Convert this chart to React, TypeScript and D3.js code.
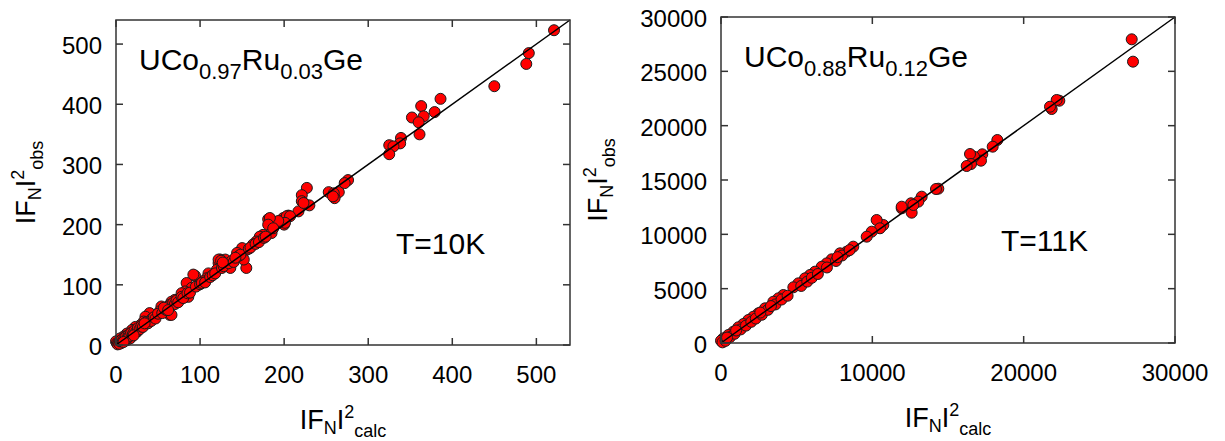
import React from "react";
import * as d3 from "d3";

// [|F_N|^2 calc, |F_N|^2 obs]
const left10K: [number, number][] = [
  [521, 523], [491, 485], [488, 467], [450, 430], [386, 409], [379, 387], [363, 397], [366, 380],
  [352, 378], [360, 370], [361, 350], [339, 344], [338, 335], [325, 332], [330, 330], [325, 317],
  [276, 274], [272, 269], [253, 254], [265, 254], [259, 252], [260, 244], [258, 247],
  [227, 261], [221, 249], [221, 239], [224, 235], [230, 232], [217, 222], [205, 215], [199, 211],
  [181, 209], [187, 197], [197, 206], [203, 214], [200, 200], [223, 236], [207, 214], [201, 203],
  [193, 206], [183, 211], [181, 200], [185, 186], [187, 194], [175, 183], [171, 180], [167, 172],
  [163, 167], [155, 158], [150, 161], [144, 153], [155, 128], [152, 142], [130, 142], [124, 142],
  [122, 136], [132, 133], [136, 128], [120, 125], [110, 119], [94, 115], [108, 111], [104, 106],
  [98, 100], [84, 103], [90, 95], [82, 89], [78, 86], [86, 80], [76, 75], [70, 75], [66, 72],
  [64, 67], [54, 64], [52, 56], [64, 50], [48, 50], [40, 53], [35, 47], [43, 44], [33, 39],
  [29, 33], [23, 30], [19, 25], [25, 22], [13, 19], [9, 14], [5, 11], [13, 8], [0, 6], [1, 3],
  [6, 3], [17, 11], [92, 117], [66, 50], [122, 142], [2, 1], [3, 4], [4, 2], [5, 6], [7, 9],
  [8, 6], [10, 12], [11, 9], [12, 14], [14, 12], [15, 17], [16, 15], [18, 20], [20, 18], [22, 24],
  [24, 22], [26, 28], [28, 26], [30, 31], [32, 30], [36, 38], [38, 36], [42, 40], [45, 46],
  [47, 44], [50, 52], [55, 53], [58, 60], [60, 58], [62, 64], [68, 70], [70, 68], [72, 74],
  [74, 71], [78, 80], [80, 78], [85, 86], [88, 87], [95, 97], [100, 101], [102, 103], [106, 104],
  [112, 113], [115, 116], [118, 119], [126, 128], [128, 131], [134, 136], [138, 140], [140, 138],
  [146, 148], [148, 150], [158, 160], [160, 162], [166, 168], [170, 171], [176, 178], [178, 180],
  [125, 140], [127, 137], [142, 145], [57, 62], [62, 58], [34, 36], [21, 16], [9, 5],
];

const right11K: [number, number][] = [
  [27140, 27947], [27225, 25890], [22356, 22297], [22180, 22362], [21850, 21533], [21740, 21745],
  [18260, 18680], [17953, 18067], [17266, 17364], [17180, 16778], [16718, 17144], [16454, 17392],
  [16520, 16472], [16234, 16288], [14360, 14200], [14207, 14171], [13260, 13466], [13040, 13006],
  [12556, 12856], [12600, 11993], [11940, 12395], [12710, 12700], [11940, 12545], [10726, 10860],
  [10286, 11319], [10506, 10557], [9958, 10245], [9628, 9785], [8742, 8865], [8303, 8405],
  [7864, 8252], [7314, 7700], [6984, 7330], [6654, 7022], [6212, 6565], [5881, 6258], [5551, 5950],
  [5111, 5490], [4781, 5125], [4120, 4417], [3790, 4110], [3459, 3800], [2908, 3190], [2467, 2730],
  [2137, 2420], [1806, 2117], [1476, 1748], [1145, 1445], [815, 1040], [485, 736], [154, 430],
  [0, 210], [100, 60], [300, 200], [600, 550], [900, 850], [1300, 1250], [1650, 1600], [2000, 1950],
  [2300, 2250], [2700, 2600], [3100, 3050], [3600, 3550], [4000, 4000], [4400, 4350], [5300, 5250],
  [5700, 5650], [6000, 6000], [6400, 6350], [7000, 6950], [7600, 7550], [8000, 8050], [8500, 8550],
  [7700, 7900], [3300, 3400], [2600, 2800], [1000, 1150], [400, 500],
];

const leftTicks = [0, 100, 200, 300, 400, 500];
const rightXTicks = [0, 10000, 20000, 30000];
const rightYTicks = [0, 5000, 10000, 15000, 20000, 25000, 30000];

const FONT = "'Liberation Sans', Arial, Helvetica, sans-serif";

type PanelProps = {
  left: number; top: number; right: number; bottom: number;
  max: number; xTicks: number[]; yTicks: number[];
  data: [number, number][];
  sub1: string; sub2: string; temp: string; yLabelOffset: number;
};

function Panel(p: PanelProps) {
  const x = d3.scaleLinear().domain([0, p.max]).range([p.left, p.right]);
  const y = d3.scaleLinear().domain([0, p.max]).range([p.bottom, p.top]);
  const tl = 7;
  const axisColor = "#333";
  const line = d3.line<number>().x((d) => x(d)).y((d) => y(d));
  const cx = (p.left + p.right) / 2;
  const cy = (p.top + p.bottom) / 2;
  return (
    <g fontFamily={FONT} fill="#000">
      {p.data.map((d, i) => (
        <circle key={i} cx={x(d[0])} cy={y(d[1])} r={5.5} fill="#ff0000" stroke="#1a1a1a" strokeWidth={1} />
      ))}
      <path d={line([0, p.max]) || ""} stroke="#000" strokeWidth={1.5} fill="none" />
      <rect x={p.left} y={p.top} width={p.right - p.left} height={p.bottom - p.top} fill="none" stroke={axisColor} strokeWidth={1.5} />
      {p.xTicks.map((t) => (
        <g key={"x" + t}>
          <line x1={x(t)} x2={x(t)} y1={p.bottom} y2={p.bottom - tl} stroke={axisColor} strokeWidth={1.5} />
          <line x1={x(t)} x2={x(t)} y1={p.top} y2={p.top + tl} stroke={axisColor} strokeWidth={1.5} />
          <text x={x(t)} y={p.bottom + 38} fontSize={24} textAnchor="middle">{t}</text>
        </g>
      ))}
      {p.yTicks.map((t) => (
        <g key={"y" + t}>
          <line x1={p.left} x2={p.left + tl} y1={y(t)} y2={y(t)} stroke={axisColor} strokeWidth={1.5} />
          <line x1={p.right} x2={p.right - tl} y1={y(t)} y2={y(t)} stroke={axisColor} strokeWidth={1.5} />
          <text x={p.left - 14} y={y(t) + 10} fontSize={24} textAnchor="end">{t}</text>
        </g>
      ))}
      <text x={p.left + 23} y={p.top + 50} fontSize={30}>
        UCo<tspan fontSize={22} dy={9}>{p.sub1}</tspan>
        <tspan dy={-9}>Ru</tspan>
        <tspan fontSize={22} dy={9}>{p.sub2}</tspan>
        <tspan dy={-9}>Ge</tspan>
      </text>
      <text x={p.left + 280} y={p.top + 234} fontSize={30}>{p.temp}</text>
      <text x={cx} y={p.bottom + 84} fontSize={27} textAnchor="middle">
        IF<tspan fontSize={18} dy={5}>N</tspan>
        <tspan dy={-5}>I</tspan>
        <tspan fontSize={18} dy={-11}>2</tspan>
        <tspan fontSize={18} dy={19}>calc</tspan>
      </text>
      <text transform={`translate(${p.left - p.yLabelOffset},${cy}) rotate(-90)`} fontSize={27} textAnchor="middle">
        IF<tspan fontSize={18} dy={6}>N</tspan>
        <tspan dy={-6}>I</tspan>
        <tspan fontSize={18} dy={-11}>2</tspan>
        <tspan fontSize={18} dy={19}>obs</tspan>
      </text>
    </g>
  );
}

export default function App() {
  return (
    <svg width={1225} height={441} style={{ position: "absolute", left: 0, top: 0, background: "#fff" }}>
      <rect width={1225} height={441} fill="#fff" />
      <Panel left={116} top={20} right={570} bottom={345} max={540} xTicks={leftTicks} yTicks={leftTicks}
        data={left10K} sub1="0.97" sub2="0.03" temp="T=10K" yLabelOffset={81} />
      <Panel left={721} top={17} right={1175} bottom={343} max={30000} xTicks={rightXTicks} yTicks={rightYTicks}
        data={right11K} sub1="0.88" sub2="0.12" temp="T=11K" yLabelOffset={114} />
    </svg>
  );
}
